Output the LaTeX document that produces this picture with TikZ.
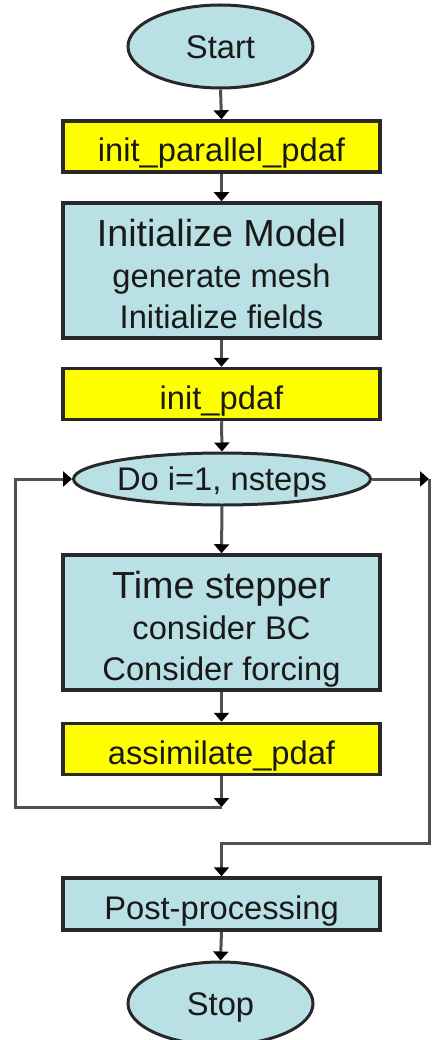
\documentclass[tikz,border=0pt]{standalone}
\usepackage{fontspec}
\setmainfont{Liberation Sans}
\usetikzlibrary{shapes.geometric,arrows.meta}
\definecolor{boxblue}{RGB}{185,224,228}
\definecolor{boxyellow}{RGB}{255,255,0}
\definecolor{edge}{RGB}{40,40,40}
\definecolor{conn}{RGB}{80,80,80}
\definecolor{txt}{RGB}{25,25,25}
\begin{document}
\begin{tikzpicture}[x=1pt,y=-1pt,
  bodyfont/.style={font=\fontsize{32.7}{41}\selectfont},
  term/.style={ellipse,draw=edge,line width=3pt,fill=boxblue,inner sep=0pt,
     minimum width=185pt,minimum height=83pt,text=txt,bodyfont,text height=23.5pt,text depth=0pt},
  loopnode/.style={ellipse,draw=edge,line width=3pt,fill=boxblue,inner sep=0pt,
     minimum width=280pt,minimum height=52pt,text=txt,bodyfont,text height=23.5pt,text depth=0pt},
  callbox/.style={rectangle,draw=edge,line width=3.5pt,fill=boxyellow,inner xsep=0pt,inner ysep=0pt,
     minimum width=317pt,text=txt,bodyfont,text height=41pt,text depth=10pt},
  procbox/.style={rectangle,draw=edge,line width=3.5pt,fill=boxblue,inner xsep=0pt,inner ysep=0pt,
     minimum width=317pt,text=txt,bodyfont,align=center,text height=125pt,text depth=10pt},
  postbox/.style={rectangle,draw=edge,line width=3.5pt,fill=boxblue,inner xsep=0pt,inner ysep=0pt,
     minimum width=317pt,text=txt,bodyfont,text height=41pt,text depth=11pt},
  arr/.style={draw=conn,line width=3pt,-{Triangle[length=9pt,width=15pt,color=black]}}
]
\useasboundingbox (0,0) rectangle (431,1040);

\node[term] (start) at (220.5,46.5) {Start};
\node[callbox] (ipp) at (221.5,146.5) {init\_parallel\_pdaf};
\node[procbox] (im) at (221.5,270.5) {{\fontsize{37.7}{41}\selectfont Initialize Model}\\generate mesh\\Initialize fields};
\node[callbox] (ip) at (221.5,394) {init\_pdaf};
\node[loopnode] (do) at (222,479) {Do i=1, nsteps};
\node[procbox] (ts) at (221.5,622.5) {{\fontsize{37.7}{41}\selectfont Time stepper}\\consider BC\\Consider forcing};
\node[callbox] (ap) at (221.5,749) {assimilate\_pdaf};
\node[postbox] (pp) at (221.5,904) {Post-processing};
\node[term] (stop) at (220.5,1003.5) {Stop};

\coordinate (j1) at (221.5,807);
\coordinate (l1) at (15,807);
\coordinate (r1) at (429,479);
\coordinate (r2) at (429,843);

\draw[arr] (start.south) -- (ipp.north);
\draw[arr] (ipp.south) -- (im.north);
\draw[arr] (im.south) -- (ip.north);
\draw[arr] (ip.south) -- (do.north);
\draw[arr] (do.south) -- (ts.north);
\draw[arr] (ts.south) -- (ap.north);
\draw[arr] (ap.south) -- (j1);
\draw[arr] (j1) -- (l1) |- (do.west);
\draw[arr] (do.east) -- (r1);
\draw[arr] (r1) -- (r2) -| (pp.north);
\draw[arr] (pp.south) -- (stop.north);
\end{tikzpicture}
\end{document}
